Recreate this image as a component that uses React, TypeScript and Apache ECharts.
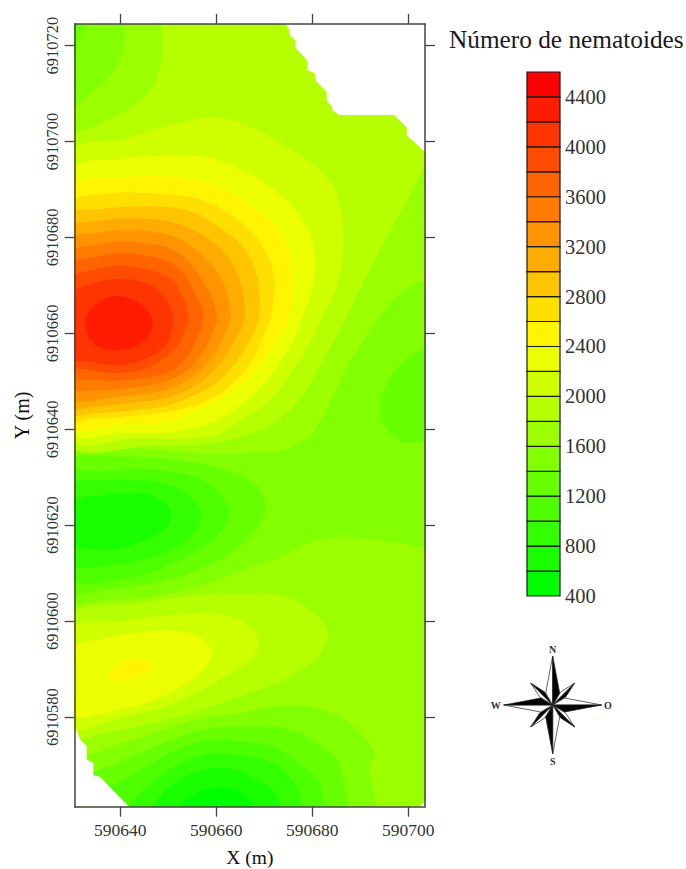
import React, { useEffect, useRef } from "react";
import * as echarts from "echarts";

// Axis ticks (UTM metres)
const EAST0 = 590600;
const NORTH0 = 6910500;
const xTicks = [590640, 590660, 590680, 590700];
const yTicks = [6910580, 6910600, 6910620, 6910640, 6910660, 6910680, 6910700, 6910720];
const xRange = [590630.5, 590703.5];
const yRange = [6910561.3, 6910724.5];

// Legend classes (number of nematodes, lower limit of each 200-wide class)
const levels = [400, 600, 800, 1000, 1200, 1400, 1600, 1800, 2000, 2200, 2400, 2600, 2800, 3000, 3200, 3400, 3600, 3800, 4000, 4200, 4400];
const levelColors = ["#00ff00", "#1aff00", "#34ff00", "#4eff00", "#68ff00", "#82ff00", "#9cff00", "#b6ff00", "#d0ff00", "#ebff00", "#fff500", "#ffdf00", "#ffc400", "#ffac00", "#ff9400", "#ff7c00", "#ff6400", "#ff4c00", "#ff3400", "#ff1c00", "#ff0000"];
const legendTicks = [400, 800, 1200, 1600, 2000, 2400, 2800, 3200, 3600, 4000, 4400];

// Contours, in metres east of EAST0 and north of NORTH0
const field1600 = [[28, 59], [106, 59], [106, 226], [28, 226]];
const corner1400 = [[41.2, 226], [41.1, 224.4], [40.6, 219], [37.8, 213.5], [34.4, 210.7], [29, 207], [26, 226]];
const corner1200 = [[32.3, 226], [32.3, 224.4], [31.6, 221.8], [29, 216], [27, 226]];
const middle1400 = [[29, 135.7], [43.4, 136], [57.3, 135], [71.2, 135.3], [74, 135.7], [79.5, 138.6], [81.6, 141.6], [84.4, 146.8], [87.2, 153], [89.9, 157.2], [93.4, 162.8], [98.3, 168.3], [103.5, 171.1], [106, 171], [106, 115.5], [103.5, 115.5], [96.2, 116.6], [85.8, 117.6], [80.2, 116.6], [74, 113.8], [64.9, 110.3], [57.3, 107.6], [46.9, 105.1], [36.4, 104.4], [29, 103.9]];
const east1200 = [[103.5, 156.9], [100.3, 155.1], [96.9, 151.7], [94.4, 146.8], [94.1, 144], [94.8, 141.2], [97.6, 138.1], [100.3, 137.1], [103.5, 137.8], [106, 138], [106, 157]];
const west1200 = [[29, 133.3], [39.9, 134.3], [53.8, 133.3], [64.2, 130.8], [69, 127.4], [70.2, 123.9], [68.4, 119], [60.8, 112.8], [50.3, 108.6], [36.4, 106.5], [29, 106.3]];
const west1000 = [[29, 130.5], [36.4, 131.2], [46.9, 131.5], [57.3, 129.4], [62.1, 124.6], [62.7, 122.5], [60.1, 117.6], [53.8, 113.5], [43.4, 109.3], [29, 109]];
const west800 = [[29, 128], [39.9, 129.4], [50.3, 128.4], [55.9, 124.6], [56.9, 121.8], [53.8, 116.9], [46.9, 113.5], [37.8, 111.7], [29, 112]];
const west600 = [[29, 124.6], [36.4, 126.3], [43.4, 126.7], [48.3, 125.3], [50.7, 122.1], [49, 119], [43.4, 116.2], [37.8, 114.9], [29, 116.6]];

const high1800 = [[48.8, 228], [48.8, 224.4], [48.6, 216.9], [46.2, 210.6], [39.9, 205.8], [34.4, 203.1], [29, 200.5], [27, 170], [29, 136.6], [46.9, 136.6], [57.3, 136.8], [64.9, 138.3], [67, 139], [71.2, 140.8], [76.7, 145.4], [81.6, 153], [86.6, 162.4], [88.4, 165.9], [89.9, 169], [93.7, 176.5], [99.7, 187.8], [103.5, 195.1], [106, 199], [106, 228]];
const high2000 = [[29, 197.5], [41.3, 200.6], [51.7, 203.8], [60, 205], [66.3, 203.4], [76, 198.2], [80.9, 194.7], [84.4, 190.6], [86.1, 185], [86.5, 178.8], [85.8, 172.5], [83.7, 166.3], [82.6, 164.85], [80.2, 159.3], [76, 152.4], [71.2, 146.1], [64.2, 141.3], [59.4, 138.6], [43.4, 138.1], [29, 138]];
const high2200 = [[29, 193.6], [41.3, 196.5], [50.4, 197], [57.3, 196.8], [64.2, 194.7], [71.2, 190.6], [76, 186.4], [79.2, 181.5], [80.6, 176], [80.2, 170.4], [78.8, 165.6], [75.7, 157.9], [71.2, 151], [65.6, 145.4], [58.7, 141.3], [50.4, 139.4], [39.9, 139.2], [29, 139.2]];
const high2400 = [[29, 190], [41.3, 192.6], [50.4, 192.6], [57.3, 191.6], [64.2, 188.8], [69.8, 184.7], [74, 180.1], [75.7, 174.6], [75.9, 169], [75, 162.8], [72.6, 158.6], [68.8, 153], [63.5, 148.2], [57.3, 144.7], [50.4, 141.8], [39.9, 141], [29, 140.4]];
const high2600 = [[29, 186.5], [37.8, 189.2], [44.8, 189.3], [50.4, 189], [55.9, 188.1], [61.5, 185.7], [67, 181.5], [70.5, 176.7], [72.2, 171.1], [71.9, 166.3], [71.2, 162.8], [70.1, 160], [67, 153.7], [62.2, 148.5], [56.6, 145.4], [50.4, 143.7], [44.8, 143], [34.4, 142.2], [29, 142]];
const high2800 = [[29, 184.5], [35.8, 185.9], [42, 186.4], [50.4, 186.3], [55.9, 185], [61.5, 181.5], [65.6, 178.1], [68.1, 173.2], [69, 168.3], [68.8, 162.8], [67.4, 159.3], [64.2, 154.1], [59.4, 149.2], [53.8, 146.4], [50.4, 145.1], [44.8, 144.2], [34.4, 143.3], [29, 143.3]];
const high3000 = [[29, 181.7], [35.8, 183.5], [41.3, 184], [50.4, 183.3], [55.2, 181.5], [60.1, 178.4], [63.5, 174.2], [65.3, 169.7], [65.8, 162.8], [64.6, 160], [61.8, 155.1], [57.6, 150.6], [50.4, 146.7], [42.7, 145.6], [34.4, 144.7], [29, 144.7]];
const high3200 = [[29, 179.1], [35.8, 181], [42, 181.5], [50.4, 180.5], [54.5, 178.4], [58.7, 174.6], [61.5, 170.4], [62.7, 166.3], [62.9, 162.8], [62.2, 160.7], [59.7, 155.8], [56.3, 152], [50.4, 148.5], [39.9, 146.8], [29, 146.8]];
const high3400 = [[29, 176.4], [35.8, 178.6], [42, 179.1], [50.4, 177.7], [53.8, 175.3], [56.6, 171.8], [59, 167.6], [60.1, 162.8], [59.4, 160.7], [57.3, 156.2], [54.5, 152.7], [50.4, 150.3], [44.8, 148.9], [36.5, 148.2], [29, 149]];
const high3600 = [[29, 173.9], [35.8, 176.1], [42, 176.7], [50.4, 174.7], [53.1, 172.5], [55.2, 169], [57, 165.6], [57.3, 162.8], [57, 161.4], [55.2, 157.2], [52.4, 153.4], [50.4, 152], [42, 150.3], [34.4, 150.3], [29, 151.3]];
const high3800 = [[29, 170.8], [35.8, 173.5], [42, 174], [50.4, 171.5], [52.4, 168.7], [53.8, 165.6], [54.2, 162.8], [53.8, 161.4], [52.1, 157.6], [50.4, 155.8], [45.5, 152.7], [39.2, 151.7], [33.7, 152.4], [29, 153.6]];
const high4000 = [[29, 167.6], [35.8, 170.8], [41.3, 171.3], [46.9, 169.7], [50.7, 164.9], [51, 162.8], [49.7, 157.9], [45.5, 154.8], [39.2, 153.4], [33.7, 154.1], [29, 155]];
const peak4200 = [[32.6, 162.1], [34.4, 165.6], [38.5, 167.8], [43.4, 166.6], [46.5, 163.5], [46.5, 160.7], [43.8, 157.6], [38.5, 156.5], [34.4, 157.9]];

const south1800 = [[29, 101], [43.4, 103.7], [57.3, 105.5], [64.9, 105.7], [71.8, 105.7], [78.8, 103], [83.3, 97.5], [81.6, 93.3], [75.3, 88.4], [64.9, 84.3], [53.8, 80.5], [43.4, 78], [36.4, 76.6], [29, 75.5]];
const south2000 = [[29, 98.3], [39.9, 99.9], [53.8, 101.5], [62.8, 101], [67.7, 98.2], [68.9, 95.4], [67, 91.9], [60.8, 87.8], [50.3, 82.5], [39.9, 79.8], [29, 77.5]];
const south2200 = [[29, 94], [36.4, 96.4], [48.9, 98], [55.9, 97.1], [59.2, 93.7], [57.3, 89.8], [50.3, 85], [39.9, 81.5], [29, 80.6]];
const south2400 = [[37.8, 89.1], [39.9, 91.1], [43.4, 92.1], [46.5, 91.2], [46.7, 90.2], [43.4, 88.4], [39.9, 87.4], [38.2, 88.1]];

const low1400 = [[93.4, 59], [93.4, 61.4], [91.9, 69.7], [93, 72.5], [90.6, 75.9], [85.8, 80.1], [78.8, 82.3], [71.8, 82.2], [64.9, 80.8], [57.3, 79.8], [46.9, 76.6], [36.4, 73.2], [32.9, 71.8], [29, 70], [29, 59]];
const low1200 = [[87.5, 59], [87.5, 61.4], [86.1, 68.3], [85.1, 71.1], [78.8, 76], [71.8, 78], [64.9, 78], [57.3, 77.4], [49, 74.6], [39.9, 70.6], [33.6, 68.2], [29, 66], [29, 59]];
const low1000 = [[82.3, 59], [82.3, 61.4], [81.3, 66.9], [78.1, 69.7], [71.8, 73.9], [64.9, 74.9], [57.3, 75], [49, 71.8], [40.6, 66.9], [36.4, 65.2], [30, 62], [30, 59]];
const low800 = [[77.8, 59], [77.8, 61.4], [76.4, 66.2], [71.8, 70.4], [64.9, 72.1], [57.3, 72.1], [49.7, 68.7], [44.1, 64.1], [41.7, 61.4], [41, 59]];
const low600 = [[73.3, 59], [73.3, 61.4], [71.8, 64.8], [68.4, 66.9], [64.9, 68.7], [59.4, 69.4], [51.8, 66.6], [46.9, 61.4], [46.9, 59]];
const low400 = [[67.7, 59], [67.7, 61.4], [64.2, 64.8], [60.1, 65.4], [55.9, 64.1], [52.5, 61.4], [52.5, 59]];

// Parts of the plot outside the sampled field
const outsideNE = [[74.5, 226], [74.5, 224.4], [75.3, 223.2], [75.3, 222.2], [76.5, 221.1], [76.5, 219.6], [79, 216.9], [79, 214.9], [80.6, 214.2], [80.6, 212.8], [83, 210.3], [83, 208.6], [84.2, 207.2], [84.2, 206.5], [85.6, 205.5], [97.1, 205.5], [99.7, 202.9], [99.7, 201.3], [103.5, 197.8], [106, 197.8], [106, 226]];
const outsideSW = [[30.8, 77.5], [31.6, 75.3], [33, 73.9], [33, 71.1], [34.4, 70.4], [34.4, 67.8], [35.7, 67.6], [41.7, 61.4], [41.7, 59], [28, 59], [28, 77.5]];
const outsideSE = [[103.5, 62.4], [102.4, 61.4], [102.4, 59], [106, 59], [106, 62.4]];

type Region = { level: number | null; path: number[][]; sharp?: boolean };
const regions: Region[] = [
  { level: 1600, path: field1600, sharp: true },
  { level: 1400, path: corner1400 },
  { level: 1200, path: corner1200 },
  { level: 1400, path: middle1400 },
  { level: 1200, path: east1200 },
  { level: 1200, path: west1200 },
  { level: 1000, path: west1000 },
  { level: 800, path: west800 },
  { level: 600, path: west600 },
  { level: 1800, path: high1800 },
  { level: 2000, path: high2000 },
  { level: 2200, path: high2200 },
  { level: 2400, path: high2400 },
  { level: 2600, path: high2600 },
  { level: 2800, path: high2800 },
  { level: 3000, path: high3000 },
  { level: 3200, path: high3200 },
  { level: 3400, path: high3400 },
  { level: 3600, path: high3600 },
  { level: 3800, path: high3800 },
  { level: 4000, path: high4000 },
  { level: 4200, path: peak4200 },
  { level: 1800, path: south1800 },
  { level: 2000, path: south2000 },
  { level: 2200, path: south2200 },
  { level: 2400, path: south2400 },
  { level: 1400, path: low1400 },
  { level: 1200, path: low1200 },
  { level: 1000, path: low1000 },
  { level: 800, path: low800 },
  { level: 600, path: low600 },
  { level: 400, path: low400 },
  { level: null, path: outsideNE, sharp: true },
  { level: null, path: outsideSW, sharp: true },
  { level: null, path: outsideSE, sharp: true },
];

const SERIF = "'Liberation Serif', 'Times New Roman', serif";
const colorOf = (level: number | null) => (level === null ? "#ffffff" : levelColors[levels.indexOf(level)]);

// Centripetal Catmull-Rom through the projected contour vertices (closed loop)
function smoothLoop(pts: number[][], steps = 8): number[][] {
  const n = pts.length;
  const out: number[][] = [];
  const knot = (t: number, a: number[], b: number[]) => t + Math.max(Math.sqrt(Math.hypot(b[0] - a[0], b[1] - a[1])), 1e-3);
  for (let i = 0; i < n; i++) {
    const p0 = pts[(i - 1 + n) % n];
    const p1 = pts[i];
    const p2 = pts[(i + 1) % n];
    const p3 = pts[(i + 2) % n];
    const t0 = 0;
    const t1 = knot(t0, p0, p1);
    const t2 = knot(t1, p1, p2);
    const t3 = knot(t2, p2, p3);
    const mix = (a: number[], b: number[], ta: number, tb: number, t: number) => {
      const w = (t - ta) / (tb - ta);
      return [a[0] + (b[0] - a[0]) * w, a[1] + (b[1] - a[1]) * w];
    };
    for (let s = 0; s < steps; s++) {
      const t = t1 + ((t2 - t1) * s) / steps;
      const a1 = mix(p0, p1, t0, t1, t);
      const a2 = mix(p1, p2, t1, t2, t);
      const a3 = mix(p2, p3, t2, t3, t);
      const b1 = mix(a1, a2, t0, t2, t);
      const b2 = mix(a2, a3, t1, t3, t);
      out.push(mix(b1, b2, t1, t2, t));
    }
  }
  return out;
}

function compassGraphic() {
  const cx = 552.7;
  const cy = 705;
  const els: any[] = [];
  const rot = (p: number[], q: number) => {
    const a = (q * Math.PI) / 2;
    return [p[0] * Math.cos(a) - p[1] * Math.sin(a), p[0] * Math.sin(a) + p[1] * Math.cos(a)];
  };
  const tri = (pts: number[][], fill: string) => ({
    type: "polygon",
    z: 20,
    silent: true,
    x: cx,
    y: cy,
    shape: { points: pts },
    style: { fill, stroke: "#222", lineWidth: 0.7 },
  });
  for (let q = 0; q < 4; q++) {
    // short diagonal arm
    els.push(tri([[22, -22], [8, -13], [0, 0]].map((p) => rot(p, q)), "#fff"));
    els.push(tri([[22, -22], [13, -8], [0, 0]].map((p) => rot(p, q)), "#000"));
  }
  for (let q = 0; q < 4; q++) {
    // long cardinal arm
    els.push(tri([[0, -49], [-7, -12], [0, 0]].map((p) => rot(p, q)), "#fff"));
    els.push(tri([[0, -49], [7, -12], [0, 0]].map((p) => rot(p, q)), "#000"));
  }
  const letters: [string, number, number][] = [
    ["N", cx, 649],
    ["S", cx, 761],
    ["W", 495.7, 705],
    ["O", 608, 705],
  ];
  letters.forEach(([t, x, y]) =>
    els.push({
      type: "text",
      z: 20,
      silent: true,
      x,
      y,
      style: { text: t, font: `bold 10px ${SERIF}`, fill: "#333", align: "center", verticalAlign: "middle" },
    })
  );
  return els;
}

export default function App() {
  const ref = useRef<HTMLDivElement>(null);
  useEffect(() => {
    const chart = echarts.init(ref.current!, null, { renderer: "svg" });
    const frame = { lineStyle: { color: "#444", width: 1.5 } };
    const tick = { show: true, inside: false, length: 10, lineStyle: { color: "#444", width: 1.3 } };
    const fmt = (v: number) => String(v);
    chart.setOption({
      animation: false,
      backgroundColor: "#fff",
      title: {
        text: "Número de nematoides",
        left: 444,
        top: 21,
        textStyle: { fontFamily: SERIF, fontSize: 25.3, fontWeight: "normal", color: "#1a1a1a" },
      },
      grid: [
        { left: 74.7, top: 24, width: 350.3, height: 782.7, outerBoundsMode: "none" },
        { left: 527, top: 72, width: 33, height: 524, outerBoundsMode: "none" },
      ],
      xAxis: [
        {
          type: "value",
          gridIndex: 0,
          position: "bottom",
          min: xRange[0],
          max: xRange[1],
          z: 5,
          name: "X (m)",
          nameLocation: "middle",
          nameGap: 41,
          nameTextStyle: { fontFamily: SERIF, fontSize: 19.5, color: "#111" },
          axisLine: { show: true, ...frame },
          axisTick: { ...tick, customValues: xTicks },
          axisLabel: { customValues: xTicks, margin: 14, formatter: fmt, fontFamily: SERIF, fontSize: 17.5, color: "#333" },
          splitLine: { show: false },
        },
        {
          type: "value",
          gridIndex: 0,
          position: "top",
          min: xRange[0],
          max: xRange[1],
          z: 5,
          axisLine: { show: true, ...frame },
          axisTick: { ...tick, customValues: xTicks },
          axisLabel: { show: false },
          splitLine: { show: false },
        },
        {
          type: "value",
          gridIndex: 1,
          min: 0,
          max: 1,
          show: false,
        },
      ],
      yAxis: [
        {
          type: "value",
          gridIndex: 0,
          position: "left",
          min: yRange[0],
          max: yRange[1],
          z: 5,
          name: "Y (m)",
          nameLocation: "middle",
          nameGap: 43,
          nameRotate: 90,
          nameTextStyle: { fontFamily: SERIF, fontSize: 20, color: "#111" },
          axisLine: { show: true, ...frame },
          axisTick: { ...tick, customValues: yTicks },
          axisLabel: { customValues: yTicks, rotate: 90, margin: 14, formatter: fmt, fontFamily: SERIF, fontSize: 16.5, color: "#333" },
          splitLine: { show: false },
        },
        {
          type: "value",
          gridIndex: 0,
          position: "right",
          min: yRange[0],
          max: yRange[1],
          z: 5,
          axisLine: { show: true, ...frame },
          axisTick: { ...tick, customValues: yTicks },
          axisLabel: { show: false },
          splitLine: { show: false },
        },
        {
          type: "value",
          gridIndex: 1,
          position: "right",
          min: 400,
          max: 4600,
          axisLine: { show: false },
          axisTick: { show: false, customValues: legendTicks },
          axisLabel: { customValues: legendTicks, margin: 5, formatter: fmt, fontFamily: SERIF, fontSize: 20.5, color: "#333", padding: [0, 0, 4, 0] },
          splitLine: { show: false },
        },
      ],
      series: [
        {
          type: "custom",
          name: "Contornos",
          xAxisIndex: 0,
          yAxisIndex: 0,
          clip: true,
          silent: true,
          z: 2,
          data: regions.map((r) => [EAST0 + r.path[0][0], NORTH0 + r.path[0][1]]),
          renderItem: (params: any, api: any) => {
            const r = regions[params.dataIndex];
            const projected = r.path.map(([e, n]) => api.coord([EAST0 + e, NORTH0 + n]));
            return {
              type: "polygon",
              shape: { points: r.sharp ? projected : smoothLoop(projected) },
              style: { fill: colorOf(r.level) },
            };
          },
        },
        {
          type: "custom",
          name: "Legenda",
          xAxisIndex: 2,
          yAxisIndex: 2,
          silent: true,
          z: 3,
          data: levels.map((l) => [0.5, l]),
          renderItem: (params: any, api: any) => {
            const l = levels[params.dataIndex];
            const a = api.coord([0, l + 200]);
            const b = api.coord([1, l]);
            return {
              type: "rect",
              shape: { x: a[0], y: a[1], width: b[0] - a[0], height: b[1] - a[1] },
              style: { fill: levelColors[params.dataIndex], stroke: "#1a1a1a", lineWidth: 1.2 },
            };
          },
        },
      ],
      graphic: compassGraphic(),
    });
    return () => chart.dispose();
  }, []);
  return <div ref={ref} style={{ position: "fixed", left: 0, top: 0, width: 686, height: 869 }} />;
}
